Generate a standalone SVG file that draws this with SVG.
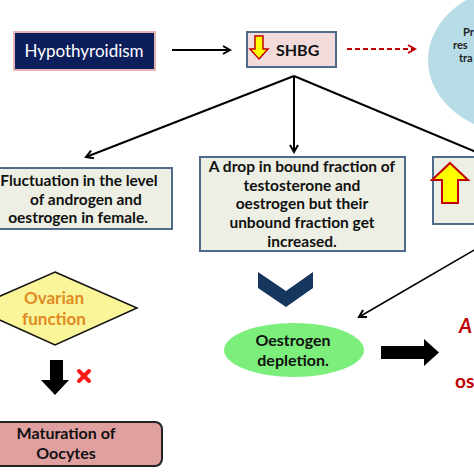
<svg xmlns="http://www.w3.org/2000/svg" width="474" height="474" viewBox="0 0 474 474">
<defs>
<style>
.t{font-family:Lato,"Liberation Sans",sans-serif;font-weight:bold;font-size:15.5px;fill:#111;text-anchor:middle}
.box{fill:#edefe4;stroke:#4f6a8a;stroke-width:2}
.ln{fill:none;stroke:#000;stroke-width:2}
</style>
<marker id="ah" markerWidth="10" markerHeight="10" refX="8" refY="5" orient="auto" markerUnits="userSpaceOnUse">
<path d="M1,1 L8,5 L1,9" fill="none" stroke="#000" stroke-width="2"/>
</marker>
<marker id="ahr" markerWidth="10" markerHeight="10" refX="8" refY="5" orient="auto" markerUnits="userSpaceOnUse">
<path d="M1,1 L8,5 L1,9" fill="none" stroke="#c00000" stroke-width="2"/>
</marker>
</defs>
<rect width="474" height="474" fill="#fff"/>

<g id="circle">
<ellipse cx="520" cy="60" rx="92" ry="74" fill="#b7dce6"/>
<text x="463" y="36" style="font-family:Lato,'Liberation Sans',sans-serif;font-weight:bold;font-size:11px;fill:#222">Pr</text>
<text x="453" y="49" style="font-family:Lato,'Liberation Sans',sans-serif;font-weight:bold;font-size:11px;fill:#222">res</text>
<text x="459" y="62" style="font-family:Lato,'Liberation Sans',sans-serif;font-weight:bold;font-size:11px;fill:#222">tra</text>
</g>

<g id="connectors">
<line class="ln" x1="172" y1="50" x2="230" y2="50" marker-end="url(#ah)"/>
<line x1="347" y1="49" x2="415" y2="49" stroke="#c00000" stroke-width="2" stroke-dasharray="5,3" marker-end="url(#ahr)"/>
<line class="ln" x1="294" y1="76" x2="86" y2="157" marker-end="url(#ah)"/>
<line class="ln" x1="294" y1="76" x2="294" y2="152" marker-end="url(#ah)"/>
<line class="ln" x1="294" y1="76" x2="476" y2="152"/>
<line x1="476" y1="249" x2="359" y2="317" stroke="#000" stroke-width="1.5" marker-end="url(#ah)"/>
</g>

<g id="hypothyroidism">
<rect x="14" y="32" width="141" height="38" fill="#0c1e5b" stroke="#e3b5b4" stroke-width="2"/>
<text x="84" y="57" style="font-family:Lato,'Liberation Sans',sans-serif;font-size:17px;fill:#fff;text-anchor:middle">Hypothyroidism</text>
</g>

<g id="shbg">
<rect x="247" y="32" width="89" height="35" fill="#f2dcdb" stroke="#4f6a8a" stroke-width="2"/>
<path d="M255,36 H263 V49 H268 L259,59 L250,49 H255 Z" fill="#ffff00" stroke="#c00000" stroke-width="1.5"/>
<text x="276" y="56" style="font-family:Lato,'Liberation Sans',sans-serif;font-weight:bold;font-size:16px;fill:#111">SHBG</text>
</g>

<g id="fluctuation">
<rect class="box" x="-5" y="168" width="177" height="61"/>
<text class="t" x="79" y="186">Fluctuation  in the level</text>
<text class="t" x="86" y="205">of androgen and</text>
<text class="t" x="78" y="223">oestrogen in female.</text>
</g>

<g id="drop">
<rect class="box" x="200" y="157" width="205" height="94"/>
<text class="t" x="302" y="172">A drop in bound  fraction of</text>
<text class="t" x="302" y="191">testosterone and</text>
<text class="t" x="302" y="209">oestrogen but their</text>
<text class="t" x="302" y="228">unbound fraction get</text>
<text class="t" x="302" y="247">increased.</text>
</g>

<g id="increase">
<rect class="box" x="433" y="157" width="50" height="67"/>
<path d="M450,163 L468,180 H458 V203 H442 V180 H432 Z" fill="#ffff00" stroke="#c00000" stroke-width="2"/>
</g>

<g id="chevron">
<path d="M258,272 L286,291 L313,272 L313,288 L286,307 L258,288 Z" fill="#17365d"/>
</g>

<g id="ovarian">
<path d="M55,272 L137,308 L55,345 L-27,308 Z" fill="#fbf59a" stroke="#111" stroke-width="1.5"/>
<text x="54" y="304" style="font-family:Lato,'Liberation Sans',sans-serif;font-weight:bold;font-size:17px;fill:#e08a22;text-anchor:middle">Ovarian</text>
<text x="54" y="325" style="font-family:Lato,'Liberation Sans',sans-serif;font-weight:bold;font-size:17px;fill:#e08a22;text-anchor:middle">function</text>
</g>

<g id="blockdown">
<path d="M50,360 H63 V380 H69 L55,395 L41,380 H50 Z" fill="#000"/>
<path d="M79,371 L89,381 M89,371 L79,381" stroke="#ff1a1a" stroke-width="4" stroke-linecap="round"/>
</g>

<g id="maturation">
<rect x="-6" y="422" width="168" height="44" rx="7" fill="#e0a0a0" stroke="#222" stroke-width="2"/>
<text class="t" x="66" y="439" style="font-size:16px">Maturation of</text>
<text class="t" x="66" y="459" style="font-size:16px">Oocytes</text>
</g>

<g id="oestrogen">
<ellipse cx="294" cy="350" rx="70" ry="27" fill="#7bee7b"/>
<text class="t" x="293" y="346" style="font-size:16px">Oestrogen</text>
<text class="t" x="293" y="366" style="font-size:16px">depletion.</text>
</g>

<g id="blockright">
<path d="M381,346 H424 V339 L439,352.5 L424,366 V359 H381 Z" fill="#000"/>
</g>

<g id="outcome">
<text x="459" y="333" style="font-family:Lato,'Liberation Sans',sans-serif;font-weight:bold;font-style:italic;font-size:20px;fill:#c00000">A</text>
<text x="455" y="388" style="font-family:Lato,'Liberation Sans',sans-serif;font-weight:bold;font-size:19px;fill:#c00000">os</text>
</g>
</svg>
